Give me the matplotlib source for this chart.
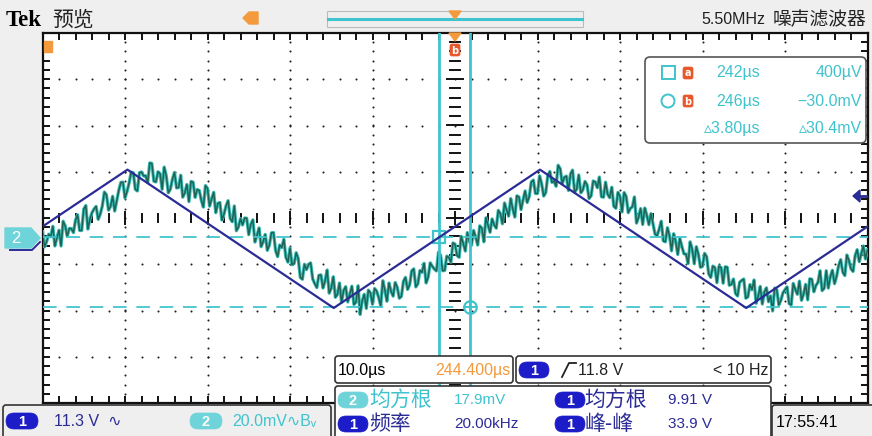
import numpy as np
import matplotlib
matplotlib.use("Agg")
import matplotlib.pyplot as plt
from matplotlib.patches import FancyBboxPatch, Polygon, Rectangle, Circle

# ---------------- acquisition data ----------------
# time window on screen (us) and scale settings
T_LEFT = 194.4
T_RIGHT = 294.4
CH1_VOLTS_PER_DIV = 11.3
CH2_MV_PER_DIV = 20.0
CH1_OFFSET_DIV = -0.45   # ground level relative to screen centre
CH2_OFFSET_DIV = -0.43

# channel 1: triangle wave vertices (us, V)
ch1_t = [194.4, 204.7, 229.7, 254.7, 279.7, 294.4]
ch1_v = [3.0, 16.9, -16.9, 16.9, -16.9, 3.0]

# channel 2: filtered noisy signal, sampled every 0.25 us from T_LEFT (mV)
CH2_DT = 0.25
ch2_mv = [
    2.6, -3.9, -1.6, 1.6, 0.5, 5.0, -3.5, 0.1, 3.3, -3.5, 7.2, 5.2, 0.6, 4.1, 4.0, 2.3, 7.6, 10.0, 3.2, 3.2,
    12.4, 14.0, 3.8, 8.1, 10.9, 12.5, 13.6, 8.0, 10.3, 13.8, 19.8, 18.6, 12.0, 13.6, 18.0, 11.6, 16.2, 20.6, 24.0, 24.1,
    17.3, 20.1, 23.8, 28.4, 28.2, 21.0, 20.3, 28.2, 28.5, 26.8, 26.9, 23.9, 32.4, 32.2, 24.5, 24.2, 28.6, 27.8, 21.0, 30.6,
    26.9, 19.5, 21.1, 25.4, 28.3, 21.6, 21.8, 27.1, 17.6, 19.5, 23.1, 15.7, 24.4, 24.1, 17.5, 20.9, 20.5, 16.3, 13.3, 22.6,
    21.4, 13.7, 16.8, 19.7, 10.9, 14.9, 15.3, 7.7, 10.3, 13.9, 16.1, 8.4, 7.0, 13.8, 3.1, 4.7, 8.3, 5.6, 8.6, 8.5,
    1.4, 5.9, 7.8, -1.8, 1.1, 4.3, -3.8, -1.6, 1.5, -5.4, -3.1, 2.2, 2.3, -5.4, -8.1, -3.1, -4.2, -0.6, -8.4, -10.5,
    -4.4, -11.6, -11.1, -6.4, -9.0, -17.1, -17.9, -11.4, -13.7, -11.5, -10.8, -17.7, -19.8, -21.5, -16.2, -16.0, -21.7, -18.6, -13.9, -23.9,
    -21.7, -16.8, -25.7, -24.4, -19.5, -27.9, -22.7, -21.1, -27.7, -24.3, -20.9, -28.8, -27.8, -20.7, -33.1, -27.3, -24.4, -30.5, -22.6, -23.8,
    -28.7, -21.9, -23.0, -25.8, -29.4, -18.5, -22.6, -27.4, -19.5, -23.1, -25.2, -19.3, -21.4, -26.1, -25.3, -18.8, -17.1, -22.3, -20.3, -14.3,
    -13.4, -21.2, -19.8, -14.1, -14.9, -11.0, -19.5, -16.9, -10.8, -12.3, -13.5, -14.3, -6.2, -7.5, -14.2, -14.1, -7.9, -8.4, -10.5, -2.2,
    -2.7, -7.6, -8.4, 0.7, -2.5, -5.7, 2.3, -1.6, -3.2, 3.2, 0.4, -3.1, 5.2, 4.2, -1.7, 8.7, 5.5, 2.4, 8.2, 5.6,
    4.2, 11.9, 10.5, 6.1, 15.1, 12.1, 9.4, 17.0, 12.5, 9.0, 18.2, 17.7, 12.2, 16.4, 20.3, 15.3, 17.9, 24.2, 25.0, 19.2,
    19.2, 26.8, 23.4, 18.1, 19.6, 27.0, 28.7, 24.0, 24.6, 22.3, 31.4, 29.9, 23.4, 26.2, 26.7, 20.5, 27.6, 29.3, 19.8, 21.1,
    27.2, 19.5, 20.8, 24.4, 23.0, 17.0, 18.2, 24.6, 24.2, 21.7, 26.3, 17.8, 17.6, 24.1, 18.9, 17.4, 21.9, 13.7, 12.8, 19.7,
    18.0, 11.2, 19.6, 17.9, 10.9, 12.7, 13.5, 17.7, 6.4, 8.9, 12.7, 5.8, 12.9, 9.8, 5.7, 10.5, 6.0, 1.6, 1.0, 3.8,
    7.2, -1.3, -1.7, 4.4, 0.9, -5.6, 1.8, -1.5, -7.2, -0.3, -3.7, -6.9, -7.0, -11.1, -1.7, -4.9, -11.2, -3.8, -7.1, -12.7,
    -12.3, -6.7, -8.1, -15.5, -17.1, -12.2, -12.8, -19.4, -12.2, -12.8, -19.6, -12.5, -12.7, -20.5, -20.1, -17.8, -24.0, -25.1, -19.2, -18.4,
    -17.8, -26.1, -25.5, -20.2, -22.4, -18.2, -28.3, -25.2, -21.0, -28.6, -23.4, -21.6, -27.6, -25.1, -31.6, -21.7, -22.4, -29.0, -27.0, -23.8,
    -22.4, -21.2, -28.4, -29.0, -19.7, -22.3, -24.4, -18.7, -27.0, -24.3, -20.1, -26.8, -17.7, -17.9, -23.3, -20.6, -19.2, -14.2, -22.8, -21.8,
    -14.2, -21.7, -16.7, -14.0, -19.8, -16.7, -12.0, -9.4, -14.8, -16.3, -7.4, -9.8, -13.4, -14.5, -7.7, -5.1, -10.3, -6.8, -3.5, -9.1,
    -5.2,
]

# cursors
cursor_a_t, cursor_b_t = 242.4, 246.2       # us
cursor_a_mv, cursor_b_mv = 0.4, -30.0       # mV

# text shown on the display
readout_rows = [("242\u00b5s", "400\u00b5V"), ("246\u00b5s", "\u221230.0mV"),
                ("\u25b53.80\u00b5s", "\u25b530.4mV")]
timebase_text = "10.0\u00b5s"
position_text = "244.400\u00b5s"
trigger_level = "11.8 V"
trigger_freq = "< 10 Hz"
meas_left = [("2", "均方根", "17.9mV"), ("1", "频率", "20.00kHz")]
meas_right = [("1", "均方根", "9.91 V"), ("1", "峰-峰", "33.9 V")]
ch1_scale_text = "11.3 V  \u223f"
ch2_scale_text = "20.0mV\u223fB\u1d65"
clock_text = "17:55:41"

# ---------------- styling ----------------
W, H = 872, 436
BG = "#efefef"
NAVY = "#2b2b96"
PILL_BLUE = "#1c1cc8"
CYAN = "#3fc3cc"
CYAN_FILL = "#6fd3da"
ORANGE = "#f39a3c"
TRACE_DARK = "#1d5e50"
TRACE_LIGHT = "#3cbfb8"
CJK = ["Noto Sans CJK SC", "DejaVu Sans"]
NARROW = ["Liberation Sans Narrow", "Liberation Sans", "DejaVu Sans"]

fig = plt.figure(figsize=(W / 100, H / 100), dpi=100)
fig.patch.set_facecolor(BG)

def px_axes(x0, y0, x1, y1):
    return [x0 / W, 1 - y1 / H, (x1 - x0) / W, (y1 - y0) / H]

# pixel-space layer for the instrument frame
ui = fig.add_axes([0, 0, 1, 1], zorder=0)
ui.set_xlim(0, W); ui.set_ylim(H, 0); ui.axis("off")

GX0, GY0, GX1, GY1 = 42.5, 33, 867.5, 403

# ---------------- graticule ----------------
grat = fig.add_axes(px_axes(GX0, GY0, GX1, GY1), zorder=1)
grat.set_facecolor("white")
grat.set_xlim(0, 10); grat.set_ylim(-4, 4)
for s in grat.spines.values():
    s.set_color("#111111"); s.set_linewidth(1.6)
grat.set_xticks(np.arange(0, 10.01, 1)); grat.set_yticks(np.arange(-4, 4.01, 1))
grat.set_xticks(np.arange(0, 10.01, 0.2), minor=True)
grat.set_yticks(np.arange(-4, 4.01, 0.2), minor=True)
grat.tick_params(which="both", direction="in", top=True, right=True, length=5,
                 width=1.4, color="#111111", labelbottom=False, labelleft=False)

dot_kw = dict(color="#222222", s=2.2, linewidths=0, zorder=1)
fine_x = np.arange(0.2, 10, 0.2)
fine_y = np.arange(-3.8, 4, 0.2)
for gx in range(1, 10):
    if gx == 5:
        continue
    grat.scatter(np.full(fine_y.size, gx), fine_y, **dot_kw)
for gy in range(-3, 4):
    if gy == 0:
        continue
    grat.scatter(fine_x, np.full(fine_x.size, gy), **dot_kw)
# centre axes with short ticks
for fx in fine_x:
    big = abs(fx - round(fx)) < 1e-6
    h = 0.14 if big else 0.08
    grat.plot([fx, fx], [-h, h], color="#111111", lw=1.4, zorder=1)
for fy in fine_y:
    big = abs(fy - round(fy)) < 1e-6
    w = 0.1 if big else 0.06
    grat.plot([5 - w, 5 + w], [fy, fy], color="#111111", lw=1.4, zorder=1)

# ---------------- channel axes ----------------
def chan_axes(per_div, offset_div):
    a = fig.add_axes(px_axes(GX0, GY0, GX1, GY1), zorder=2)
    a.set_xlim(T_LEFT, T_RIGHT)
    centre = -offset_div * per_div
    a.set_ylim(centre - 4 * per_div, centre + 4 * per_div)
    a.patch.set_alpha(0); a.axis("off")
    return a

ax2 = chan_axes(CH2_MV_PER_DIV, CH2_OFFSET_DIV)
ax1 = chan_axes(CH1_VOLTS_PER_DIV, CH1_OFFSET_DIV)

ch2_t = T_LEFT + CH2_DT * np.arange(len(ch2_mv))
ax2.plot(ch2_t, ch2_mv, color=TRACE_LIGHT, lw=2.4)
ax2.plot(ch2_t, ch2_mv, color=TRACE_DARK, lw=1.1, alpha=0.95)
ax1.plot(ch1_t, ch1_v, color=NAVY, lw=1.6)

# cursors
for ct in (cursor_a_t, cursor_b_t):
    ax2.axvline(ct, color=CYAN, lw=2.0, zorder=3)
for cm in (cursor_a_mv, cursor_b_mv):
    ax2.axhline(cm, color=CYAN, lw=1.4, dashes=(7, 5), zorder=3, alpha=0.9)
ax2.plot([cursor_a_t], [cursor_a_mv], marker="s", ms=9, mfc="none", mec=CYAN,
         mew=1.6, zorder=4)
ax2.plot([cursor_b_t], [cursor_b_mv], marker="o", ms=9, mfc="none", mec=CYAN,
         mew=1.6, zorder=4)
ax2.plot([cursor_b_t], [cursor_b_mv], marker="+", ms=9, mec=CYAN, mew=1.2, zorder=4)

# ---------------- overlay layer ----------------
top = fig.add_axes([0, 0, 1, 1], zorder=5)
top.set_xlim(0, W); top.set_ylim(H, 0); top.axis("off"); top.patch.set_alpha(0)

def box(a, x0, y0, x1, y1, fc="white", ec="#333333", lw=1.2, r=3, z=1):
    a.add_patch(FancyBboxPatch((x0, y0), x1 - x0, y1 - y0,
                               boxstyle=f"round,pad=0,rounding_size={r}",
                               fc=fc, ec=ec, lw=lw, zorder=z))

def pill(a, x0, yc, label, fc, w=30, h=16):
    box(a, x0, yc - h / 2, x0 + w, yc + h / 2, fc=fc, ec=fc, lw=0.5, r=h / 2, z=3)
    a.text(x0 + w / 2, yc + 0.5, label, color="white", fontsize=10.5,
           ha="center", va="center", fontweight="bold", zorder=4, family=NARROW)

def orange_tag(a, x, y, letter):
    box(a, x - 5, y - 6, x + 5, y + 6, fc="#e8582a", ec="#e8582a", lw=0.5, r=2, z=3)
    a.text(x, y + 0.5, letter, color="white", fontsize=7, ha="center",
           va="center", fontweight="bold", zorder=4)

# header
ui.text(6, 20, "Tek", fontsize=16.5, fontweight="bold", family="Liberation Serif",
        va="center", ha="left", color="black")
ui.text(52, 20, "预览", fontsize=15, family=CJK, va="center", ha="left", color="#222222")
ui.add_patch(Polygon([[243, 18], [249, 12], [258, 12], [258, 24], [249, 24]],
                     closed=True, fc=ORANGE, ec=ORANGE, zorder=2))
ui.add_patch(Rectangle((327, 11), 256, 16, fc="none", ec="#bbbbbb", lw=0.8, zorder=1))
ui.plot([328, 582], [19, 19], color=CYAN, lw=2.2, zorder=2)
ui.add_patch(Polygon([[449, 11], [461, 11], [455, 19]], closed=True,
                     fc=ORANGE, ec=ORANGE, zorder=3))
ui.text(765, 20, "5.50MHz", fontsize=11.5, family=NARROW, ha="right", va="center",
        color="#222222")
ui.text(773, 20, "噪声滤波器", fontsize=13.5, family=CJK, ha="left", va="center",
        color="#222222")

# markers on graticule edges
top.add_patch(Polygon([[449, 33], [455, 41], [461, 33]], closed=True,
                      fc=ORANGE, ec=ORANGE, zorder=3))
orange_tag(top, 455, 50, "b")
top.add_patch(Rectangle((44, 41), 8, 11, fc=ORANGE, ec=ORANGE, zorder=3))
top.add_patch(Polygon([[853, 196], [860, 190], [860, 202]], closed=True,
                      fc=NAVY, ec=NAVY, zorder=3))
top.plot([860, 866], [196, 196], color=NAVY, lw=2, zorder=3)

# channel 2 ground marker
top.add_patch(Polygon([[5, 228], [31, 228], [40, 238], [31, 248], [5, 248]],
                      closed=True, fc=CYAN_FILL, ec=CYAN_FILL, zorder=3))
top.text(16, 238.5, "2", color="white", fontsize=12, ha="center", va="center",
         zorder=4, family=NARROW)
top.plot([10, 32, 40], [250, 250, 242], color=NAVY, lw=1.4, zorder=2)

# cursor readout
box(top, 645, 57, 866, 143, fc="white", ec="#555555", lw=1.2, r=5)
top.add_patch(Rectangle((662, 66), 13, 13, fc="none", ec=CYAN, lw=1.4, zorder=3))
top.add_patch(Circle((668, 101), 6.5, fc="none", ec=CYAN, lw=1.4, zorder=3))
orange_tag(top, 688, 73, "a")
orange_tag(top, 688, 101, "b")
row_y = [73, 101, 128]
for (tv, vv), yy in zip(readout_rows, row_y):
    top.text(760, yy, tv, color=CYAN, fontsize=11.5, ha="right", va="center",
             family=NARROW, zorder=3)
    top.text(862, yy, vv, color=CYAN, fontsize=11.5, ha="right", va="center",
             family=NARROW, zorder=3)

# timebase and trigger boxes
box(top, 335, 356, 513, 383, fc="white", ec="#333333")
top.text(338, 370, timebase_text, color="black", fontsize=11.5, va="center",
         ha="left", family=NARROW, zorder=3)
top.text(510, 370, position_text, color=ORANGE, fontsize=11.5, va="center",
         ha="right", family=NARROW, zorder=3)
box(top, 516, 356, 771, 383, fc="white", ec="#333333")
pill(top, 519, 370, "1", PILL_BLUE)
# rising-edge trigger glyph
top.plot([562, 569, 576], [377, 363, 363], color="#222222", lw=1.3, zorder=3)
top.text(578, 370, trigger_level, color="#222222", fontsize=11.5, va="center",
         ha="left", family=NARROW, zorder=3)
top.text(768, 370, trigger_freq, color="#222222", fontsize=11.5, va="center",
         ha="right", family=NARROW, zorder=3)

# measurements
box(top, 335, 386, 771, 445, fc="white", ec="#333333")
rows_y = [400, 424]
for (ch, name, val), yy in zip(meas_left, rows_y):
    col = CYAN if ch == "2" else NAVY
    pill(top, 338, yy, ch, CYAN_FILL if ch == "2" else PILL_BLUE)
    top.text(369, yy, name, color=col, fontsize=15, family=CJK, va="center",
             ha="left", zorder=3)
    top.text(454, yy, val, color=col, fontsize=11, family=NARROW, va="center",
             ha="left", zorder=3)
for (ch, name, val), yy in zip(meas_right, rows_y):
    pill(top, 555, yy, ch, PILL_BLUE)
    top.text(584, yy, name, color=NAVY, fontsize=15, family=CJK, va="center",
             ha="left", zorder=3)
    top.text(668, yy, val, color=NAVY, fontsize=11, family=NARROW, va="center",
             ha="left", zorder=3)

# vertical scale box
box(top, 3, 405, 331, 445, fc=BG, ec="#333333")
pill(top, 6, 421, "1", PILL_BLUE, w=32)
top.text(54, 421, ch1_scale_text, color=NAVY, fontsize=11.5, family=NARROW,
         va="center", ha="left", zorder=3)
pill(top, 190, 421, "2", CYAN_FILL, w=32)
top.text(232, 421, ch2_scale_text, color=CYAN, fontsize=11.5, family=NARROW,
         va="center", ha="left", zorder=3)

# clock
box(top, 772, 405, 880, 445, fc=BG, ec="#333333")
top.text(776, 422, clock_text, color="black", fontsize=11.5, family=NARROW,
         va="center", ha="left", zorder=3)

fig.savefig("out.png", dpi=100, facecolor=fig.get_facecolor())
